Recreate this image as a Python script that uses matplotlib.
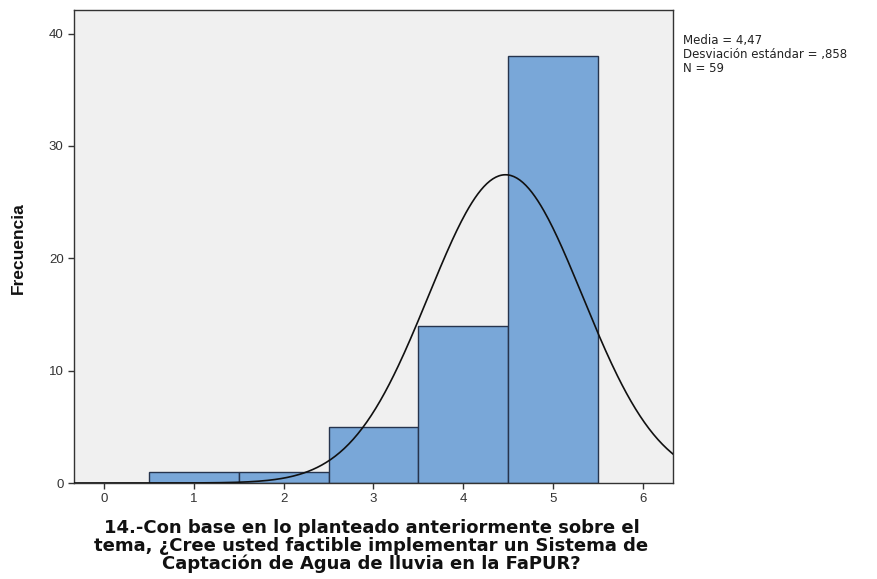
import numpy as np
import matplotlib
matplotlib.use("Agg")
import matplotlib.pyplot as plt
from matplotlib import font_manager

plt.rcParams['font.family'] = ['Liberation Sans', 'DejaVu Sans']

# Response values and their frequencies
values = [1, 2, 3, 4, 5]
counts = [1, 1, 5, 14, 38]
mean = 4.47
std = 0.858
n = 59
stats_lines = ["Media = 4,47", "Desviación estándar = ,858", "N = 59"]
xticks = [0, 1, 2, 3, 4, 5, 6]
yticks = [0, 10, 20, 30, 40]
xlabel = ("14.-Con base en lo planteado anteriormente sobre el\n"
          "tema, ¿Cree usted factible implementar un Sistema de\n"
          "Captación de Agua de lluvia en la FaPUR?")

names = {f.name for f in font_manager.fontManager.ttflist}
ylab_family = 'Liberation Sans Narrow' if 'Liberation Sans Narrow' in names else 'Liberation Sans'

fig = plt.figure(figsize=(8.77, 5.79), dpi=100)
ax = fig.add_axes([0.0844, 0.1658, 0.683, 0.817])
ax.set_facecolor('#F0F0F0')

ax.bar(values, counts, width=1.0, color='#79A7D8', edgecolor='#26344D',
       linewidth=1.0, zorder=2)

# Fitted normal curve, scaled to counts (bin width 1)
xlim = (-0.335, 6.336)
xs = np.linspace(xlim[0], xlim[1], 400)
ys = n * np.exp(-0.5 * ((xs - mean) / std) ** 2) / (std * np.sqrt(2 * np.pi))
ax.plot(xs, ys, color='#111111', linewidth=1.2, zorder=3)

ax.set_xlim(*xlim)
ax.set_ylim(0, 42.1)
ax.set_xticks(xticks)
ax.set_yticks(yticks)
ax.tick_params(axis='both', direction='out', length=4, width=1.0,
               labelsize=9.5, colors='#333333')
for s in ax.spines.values():
    s.set_color('#333333')
    s.set_linewidth(1.0)

fig.text(0.021, 0.572, "Frecuencia", rotation=90, ha='center', va='center',
         fontsize=12.5, fontweight='bold', family=ylab_family, color='#111111')

fig.text(0.4236, 0.103, xlabel, ha='center', va='top', fontsize=13,
         fontweight='bold', family='DejaVu Sans', linespacing=0.98,
         color='#111111')

fig.text(0.779, 0.942, "\n".join(stats_lines), fontsize=8.5, va='top',
         ha='left', linespacing=1.12, color='#222222', family='DejaVu Sans')

fig.savefig("out.png", dpi=100)
